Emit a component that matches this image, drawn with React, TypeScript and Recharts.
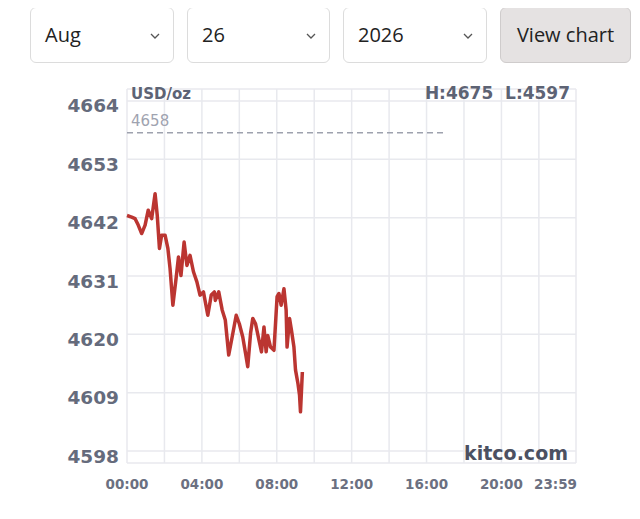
import { LineChart, Line, XAxis, YAxis, CartesianGrid, ReferenceLine } from 'recharts'

// intraday gold quote
const times = [
  '00:00', '00:15', '00:26', '00:36', '00:47', '00:58', '01:08', '01:19', '01:30', '01:37',
  '01:44', '01:51', '02:02', '02:11', '02:18', '02:27', '02:36', '02:45', '02:53', '03:03',
  '03:12', '03:22', '03:33', '03:44', '03:54', '04:05', '04:19', '04:30', '04:40', '04:43',
  '04:54', '05:05', '05:15', '05:26', '05:37', '05:50', '06:00', '06:11', '06:20', '06:27',
  '06:36', '06:43', '06:52', '07:03', '07:11', '07:19', '07:26', '07:31', '07:40', '07:51',
  '08:01', '08:07', '08:14', '08:23', '08:30', '08:33', '08:41', '08:47', '08:55', '09:00',
  '09:08', '09:13', '09:16', '09:22'
]
const prices = [
  4642.4, 4642.1, 4641.8, 4640.6, 4639.0, 4640.6, 4643.4, 4641.8, 4646.5, 4642.4,
  4636.2, 4638.7, 4638.7, 4636.2, 4632.4, 4625.5, 4629.9, 4634.6, 4631.1, 4637.4,
  4633.0, 4634.9, 4631.8, 4629.9, 4627.4, 4628.0, 4623.6, 4627.4, 4628.0, 4626.4,
  4628.0, 4624.6, 4622.7, 4616.1, 4619.5, 4623.6, 4622.0, 4619.5, 4616.4, 4613.9,
  4620.2, 4623.0, 4622.0, 4618.9, 4616.7, 4621.4, 4616.7, 4619.8, 4617.6, 4617.0,
  4627.1, 4627.7, 4625.5, 4628.6, 4624.6, 4617.6, 4623.0, 4620.8, 4617.6, 4613.3,
  4610.7, 4608.5, 4605.4, 4612.9
]

const yTicks = [4598, 4609, 4620, 4631, 4642, 4653, 4664]
const xGridTicks = ['00:00', '02:00', '04:00', '06:00', '08:00', '10:00', '12:00', '14:00', '16:00', '18:00', '20:00', '22:00', '23:59']
const xLabels = ['00:00', '04:00', '08:00', '12:00', '16:00', '20:00', '23:59']

const prevClose = 4658
const prevCloseEnd = '17:00'
const high = 4675
const low = 4597

const month = 'Aug'
const day = '26'
const year = '2026'

const toMin = (s: string) => {
  const [h, m] = s.split(':').map(Number)
  return h * 60 + m
}

const data = times.map((t, i) => ({ t: toMin(t), price: prices[i] }))

const chartFont = '"DejaVu Sans", sans-serif'
const uiFont = '"Open Sans", sans-serif'

const Chevron = () => (
  <svg width="10" height="6" viewBox="0 0 10 6" style={{ position: 'absolute', right: 13, top: 25 }}>
    <path d="M1 1 L5 5 L9 1" fill="none" stroke="#555" strokeWidth="1.3" />
  </svg>
)

const SelectBox = ({ left, width, text }: { left: number; width: number; text: string }) => (
  <div
    style={{
      position: 'absolute',
      left,
      top: 7,
      width,
      height: 56,
      boxSizing: 'border-box',
      border: '1px solid #dcdcdc',
      borderRadius: 6,
      background: '#fff',
      fontFamily: uiFont,
      fontSize: 20,
      color: '#222',
      lineHeight: '54px',
      paddingLeft: 14
    }}
  >
    {text}
    <Chevron />
  </div>
)

const YTick = (props: any) => {
  const { x, y, payload } = props
  return (
    <text x={x} y={y + 5} textAnchor="end" dominantBaseline="central" fontFamily={chartFont}
      fontWeight={700} fontSize={18.5} fill="#656b7c">
      {payload.value}
    </text>
  )
}

const XTick = (props: any) => {
  const { x, y, payload } = props
  const label = xGridTicks.find((s) => toMin(s) === payload.value)
  if (!label || !xLabels.includes(label)) return <g />
  const last = label === '23:59'
  return (
    <text x={last ? x + 1 : x} y={y + 13} textAnchor={last ? 'end' : 'middle'} dominantBaseline="central"
      fontFamily={chartFont} fontWeight={700} fontSize={13.5} fill="#6b7081">
      {label}
    </text>
  )
}

export default function App() {
  return (
    <div style={{ position: 'relative', width: 640, height: 519, margin: -8, background: '#fff', overflow: 'hidden' }}>
      <div style={{ position: 'absolute', left: 3, top: 0, width: 1, height: 519, background: '#e4e4e4' }} />
      <div style={{ position: 'absolute', left: 636, top: 0, width: 1, height: 519, background: '#e4e4e4' }} />

      <SelectBox left={30} width={144} text={month} />
      <SelectBox left={187} width={143} text={day} />
      <SelectBox left={343} width={144} text={year} />
      <div
        style={{
          position: 'absolute',
          left: 500,
          top: 7,
          width: 131,
          height: 56,
          boxSizing: 'border-box',
          border: '1px solid #cfcccc',
          borderRadius: 6,
          background: '#e5e2e2',
          fontFamily: uiFont,
          fontSize: 20,
          color: '#222',
          lineHeight: '54px',
          textAlign: 'center'
        }}
      >
        View chart
      </div>

      <div style={{ position: 'absolute', left: 0, top: 0 }}>
        <LineChart width={640} height={519} data={data} margin={{ top: 89, right: 64, bottom: 26, left: 67 }}>
          <CartesianGrid stroke="#e8e9ee" strokeWidth={1.5} />
          <XAxis
            dataKey="t"
            type="number"
            domain={[0, 1439]}
            ticks={xGridTicks.map(toMin)}
            axisLine={false}
            tickLine={false}
            height={30}
            interval={0}
            tick={XTick}
          />
          <YAxis
            type="number"
            domain={[4595.75, 4666.25]}
            ticks={yTicks}
            axisLine={false}
            tickLine={false}
            width={60}
            interval={0}
            tick={YTick}
          />
          <ReferenceLine
            segment={[{ x: 0, y: prevClose }, { x: toMin(prevCloseEnd), y: prevClose }]}
            stroke="#9ea2ae"
            strokeWidth={1.5}
            strokeDasharray="6 4"
          />
          <Line
            type="linear"
            dataKey="price"
            stroke="#bb3531"
            strokeWidth={3.5}
            strokeLinejoin="round"
            dot={false}
            isAnimationActive={false}
          />
        </LineChart>
      </div>

      <svg width={640} height={519} style={{ position: 'absolute', left: 0, top: 0, pointerEvents: 'none' }}>
        <text x={131} y={94} dominantBaseline="central" fontFamily={chartFont} fontWeight={700} fontSize={15} fill="#5d6374">
          USD/oz
        </text>
        <text x={131} y={121} dominantBaseline="central" fontFamily={chartFont} fontSize={15} fill="#9fa3b0">
          {prevClose}
        </text>
        <text x={570} y={93} textAnchor="end" dominantBaseline="central" fontFamily={chartFont} fontWeight={700}
          fontSize={17} fill="#5d6374" style={{ whiteSpace: 'pre' }}>
          {`H:${high}  L:${low}`}
        </text>
        <text x={568} y={453} textAnchor="end" dominantBaseline="central" fontFamily={chartFont} fontWeight={700}
          fontSize={19} fill="#4b5061">
          kitco.com
        </text>
      </svg>
    </div>
  )
}
